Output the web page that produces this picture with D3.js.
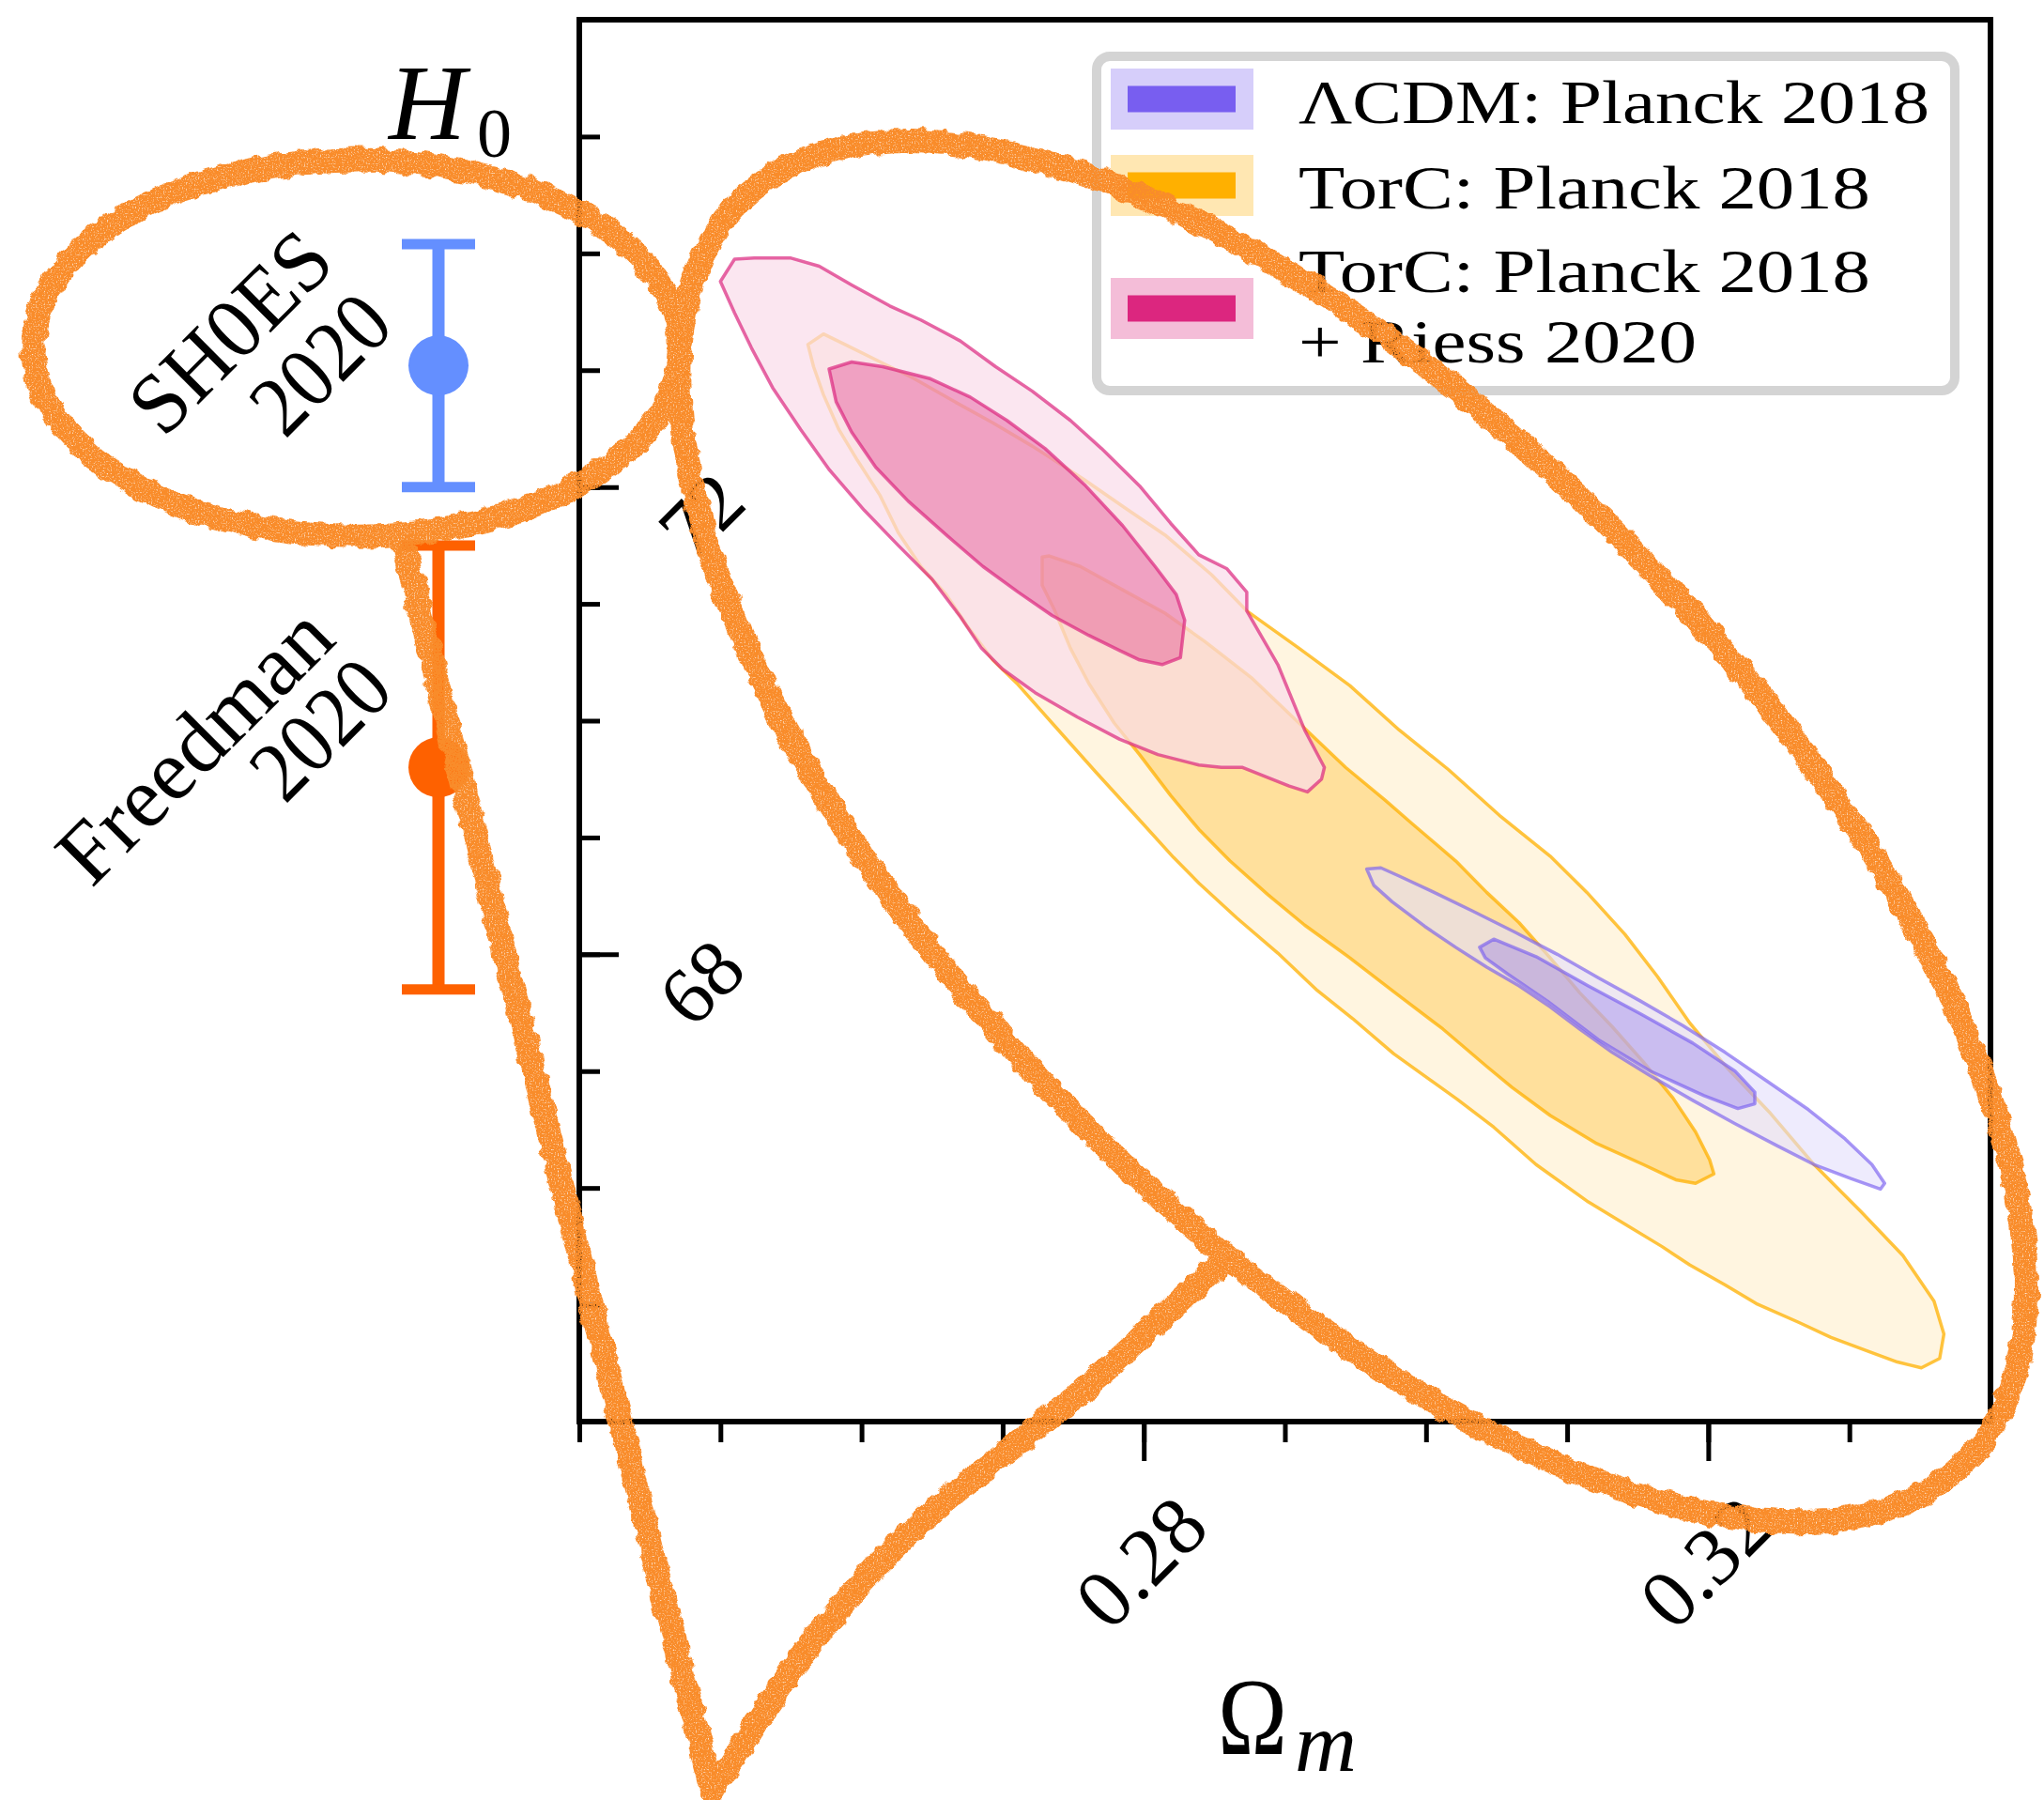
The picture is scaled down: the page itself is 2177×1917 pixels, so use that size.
<!DOCTYPE html>
<html>
<head>
<meta charset="utf-8">
<script src="https://cdn.jsdelivr.net/npm/d3@7/dist/d3.min.js"></script>
<style>
  html, body { margin: 0; padding: 0; background: #ffffff; }
  svg { display: block; }
</style>
</head>
<body>
<svg id="chart" width="2177" height="1917"></svg>
<script>
// ---------------- data ----------------
const xTickValues = [0.24, 0.25, 0.26, 0.27, 0.28, 0.29, 0.30, 0.31, 0.32, 0.33];
const xTickLabelValues = [0.28, 0.32];
const yTickValues = [65, 66, 67, 68, 69, 70, 71, 72, 73, 74, 75];
const yTickLabelValues = [68, 72];

const legendNames = [["ΛCDM: Planck 2018"], ["TorC: Planck 2018"], ["TorC: Planck 2018", "+ Riess 2020"]];
const legendColors = ["#785EF0", "#FFB000", "#DC267F"];

const localNames = [["SH0ES", "2020"], ["Freedman", "2020"]];
const localH0 = [73.04, 69.6];
const localErr = [1.04, 1.9];
const localColors = ["#648FFF", "#FE6100"];

// TorC: Planck 2018 (2 sigma, 1 sigma)  [Omega_m, H0]
const torcOuter = [[0.2562,73.22],[0.2573,73.31],[0.2590,73.21],[0.2615,73.06],[0.2637,72.93],[0.2666,72.73],[0.2693,72.55],[0.2721,72.35],[0.2757,72.07],[0.2788,71.81],[0.2815,71.59],[0.2848,71.25],[0.2873,70.94],[0.2910,70.62],[0.2946,70.30],[0.2981,69.92],[0.3016,69.58],[0.3052,69.19],[0.3088,68.84],[0.3114,68.53],[0.3141,68.17],[0.3164,67.81],[0.3187,67.41],[0.3214,67.02],[0.3244,66.64],[0.3275,66.20],[0.3308,65.80],[0.3338,65.42],[0.3360,65.03],[0.3367,64.75],[0.3364,64.54],[0.3351,64.46],[0.3334,64.51],[0.3316,64.59],[0.3287,64.72],[0.3264,64.85],[0.3234,65.01],[0.3212,65.17],[0.3187,65.34],[0.3167,65.50],[0.3141,65.69],[0.3115,65.88],[0.3078,66.20],[0.3048,66.52],[0.3022,66.76],[0.2977,67.15],[0.2948,67.45],[0.2923,67.69],[0.2895,68.01],[0.2866,68.31],[0.2839,68.61],[0.2821,68.83],[0.2800,69.11],[0.2766,69.56],[0.2735,69.98],[0.2710,70.32],[0.2693,70.52],[0.2675,70.81],[0.2660,71.08],[0.2642,71.32],[0.2626,71.61],[0.2613,71.93],[0.2597,72.23],[0.2584,72.49],[0.2573,72.79],[0.2566,73.03]];
const torcInner = [[0.2728,71.40],[0.2733,71.41],[0.2755,71.32],[0.2788,71.10],[0.2815,70.92],[0.2843,70.68],[0.2877,70.36],[0.2910,69.98],[0.2943,69.60],[0.2971,69.32],[0.2990,69.12],[0.3021,68.80],[0.3043,68.53],[0.3066,68.27],[0.3088,67.97],[0.3109,67.67],[0.3132,67.38],[0.3154,67.08],[0.3175,66.77],[0.3191,66.48],[0.3201,66.24],[0.3204,66.12],[0.3191,66.04],[0.3177,66.07],[0.3154,66.20],[0.3121,66.38],[0.3088,66.62],[0.3061,66.86],[0.3043,67.04],[0.3012,67.36],[0.2976,67.69],[0.2946,67.97],[0.2914,68.25],[0.2888,68.51],[0.2861,68.80],[0.2839,69.07],[0.2819,69.36],[0.2797,69.71],[0.2779,69.98],[0.2761,70.32],[0.2748,70.62],[0.2737,70.94],[0.2728,71.16]];

// TorC: Planck 2018 + Riess 2020
const riessOuter = [[0.2500,73.76],[0.2510,73.95],[0.2524,73.96],[0.2550,73.96],[0.2570,73.89],[0.2593,73.73],[0.2620,73.55],[0.2642,73.43],[0.2670,73.25],[0.2695,73.03],[0.2721,72.82],[0.2748,72.57],[0.2770,72.33],[0.2797,72.01],[0.2819,71.69],[0.2839,71.42],[0.2859,71.30],[0.2873,71.10],[0.2873,70.94],[0.2895,70.48],[0.2914,69.92],[0.2928,69.60],[0.2926,69.50],[0.2916,69.39],[0.2903,69.44],[0.2870,69.60],[0.2855,69.60],[0.2839,69.62],[0.2810,69.71],[0.2783,69.84],[0.2753,70.03],[0.2723,70.24],[0.2700,70.44],[0.2685,70.62],[0.2670,70.89],[0.2650,71.21],[0.2626,71.50],[0.2602,71.80],[0.2577,72.15],[0.2557,72.49],[0.2537,72.85],[0.2522,73.19],[0.2510,73.49]];
const riessInner = [[0.2577,73.01],[0.2593,73.07],[0.2615,73.03],[0.2648,72.93],[0.2677,72.77],[0.2703,72.57],[0.2730,72.33],[0.2758,72.02],[0.2785,71.67],[0.2808,71.32],[0.2823,71.08],[0.2829,70.86],[0.2826,70.54],[0.2813,70.48],[0.2797,70.52],[0.2783,70.60],[0.2761,70.73],[0.2735,70.90],[0.2711,71.10],[0.2686,71.32],[0.2660,71.59],[0.2633,71.88],[0.2610,72.17],[0.2593,72.47],[0.2582,72.73]];

// LambdaCDM: Planck 2018
const lcdmOuter = [[0.2958,68.73],[0.2968,68.74],[0.2981,68.67],[0.3004,68.54],[0.3033,68.37],[0.3063,68.19],[0.3093,68.00],[0.3122,67.80],[0.3152,67.60],[0.3182,67.39],[0.3212,67.16],[0.3241,66.92],[0.3271,66.67],[0.3297,66.42],[0.3316,66.20],[0.3325,66.04],[0.3322,65.99],[0.3301,66.08],[0.3275,66.20],[0.3249,66.36],[0.3219,66.55],[0.3189,66.75],[0.3159,66.96],[0.3132,67.16],[0.3109,67.36],[0.3088,67.55],[0.3066,67.73],[0.3043,67.89],[0.3021,68.06],[0.2999,68.24],[0.2976,68.45],[0.2963,68.59]];
const lcdmInner = [[0.3038,68.06],[0.3048,68.13],[0.3078,67.98],[0.3115,67.73],[0.3152,67.49],[0.3189,67.24],[0.3219,67.00],[0.3233,66.82],[0.3233,66.72],[0.3221,66.68],[0.3197,66.79],[0.3159,67.00],[0.3122,67.27],[0.3086,67.60],[0.3058,67.83],[0.3042,67.97]];

// hand-drawn annotations (data units)
const ringLeftCenter = [0.2242, 73.19];
const ringLeftRadii = [0.02290, 1.608];
const ringBigCenter = [0.2948, 69.05];
const ringBigU = [0.04320, -5.422];
const ringBigV = [-0.02029, -2.358];
const pointerLeft = [[0.2274, 71.57], [0.2494, 60.83]];
const pointerRight = [[0.2494, 60.83], [0.2575, 62.27], [0.2646, 63.18], [0.2755, 64.25], [0.2854, 65.36]];

// ---------------- drawing ----------------
const W = 2177, H = 1917;
const SERIF = "Liberation Serif";
const svg = d3.select("#chart").attr("font-family", SERIF);
const x = d3.scaleLinear().domain([0.24, 0.34]).range([617, 2120]);
const y = d3.scaleLinear().domain([64, 76]).range([1514, 21]);

function txt(sel) {
  return sel.append("text").attr("font-family", SERIF).attr("fill", "#000");
}

const defs = svg.append("defs");
const filt = defs.append("filter").attr("id", "rough")
  .attr("filterUnits", "userSpaceOnUse").attr("x", 0).attr("y", 0).attr("width", W).attr("height", H);
filt.append("feTurbulence").attr("type", "fractalNoise").attr("baseFrequency", "0.08")
  .attr("numOctaves", 2).attr("seed", 7).attr("result", "noise");
filt.append("feDisplacementMap").attr("in", "SourceGraphic").attr("in2", "noise")
  .attr("scale", 10).attr("xChannelSelector", "R").attr("yChannelSelector", "G").attr("result", "disp");
filt.append("feTurbulence").attr("type", "fractalNoise").attr("baseFrequency", "0.7")
  .attr("numOctaves", 1).attr("seed", 3).attr("result", "grain");
filt.append("feColorMatrix").attr("in", "grain").attr("type", "matrix")
  .attr("values", "0 0 0 0 0  0 0 0 0 0  0 0 0 0 0  3 0 0 0 -0.35").attr("result", "grainA");
filt.append("feComposite").attr("in", "disp").attr("in2", "grainA").attr("operator", "in");

const closedLine = d3.line().x(d => x(d[0])).y(d => y(d[1])).curve(d3.curveLinearClosed);

function contour(pts, fill, fillOp, stroke, strokeOp) {
  svg.append("path").attr("d", closedLine(pts))
    .attr("fill", fill).attr("fill-opacity", fillOp)
    .attr("stroke", stroke).attr("stroke-opacity", strokeOp)
    .attr("stroke-width", 3.5).attr("stroke-linejoin", "round");
}
contour(torcOuter, "#FFB000", 0.12, "#FFB000", 0.75);
contour(torcInner, "#FFB000", 0.30, "#FFB000", 0.75);
contour(riessOuter, "#f9dcea", 0.70, "#DC267F", 0.70);
contour(riessInner, "#DC267F", 0.35, "#DC267F", 0.70);
contour(lcdmOuter, "#e2defc", 0.60, "#785EF0", 0.65);
contour(lcdmInner, "#785EF0", 0.30, "#785EF0", 0.65);

// frame
svg.append("rect")
  .attr("x", x(0.24)).attr("y", y(76))
  .attr("width", x(0.34) - x(0.24)).attr("height", y(64) - y(76))
  .attr("fill", "none").attr("stroke", "#000").attr("stroke-width", 6);

// x ticks (outward)
const xMinor = svg.append("g").attr("transform", `translate(0,${y(64)})`)
  .call(d3.axisBottom(x).tickValues(xTickValues).tickSize(22).tickFormat(""));
const xMajor = svg.append("g").attr("transform", `translate(0,${y(64)})`)
  .call(d3.axisBottom(x).tickValues(xTickLabelValues).tickSize(42).tickFormat(""));
// y ticks (inward)
const yMinor = svg.append("g").attr("transform", `translate(${x(0.24)},0)`)
  .call(d3.axisRight(y).tickValues(yTickValues).tickSize(22).tickFormat(""));
const yMajor = svg.append("g").attr("transform", `translate(${x(0.24)},0)`)
  .call(d3.axisRight(y).tickValues(yTickLabelValues).tickSize(42).tickFormat(""));
[xMinor, xMajor, yMinor, yMajor].forEach(g => {
  g.select(".domain").remove();
  g.selectAll(".tick line").attr("stroke", "#000").attr("stroke-width", 5);
});

// tick labels (rotated)
xTickLabelValues.forEach(v => {
  txt(svg)
    .attr("transform", `translate(${x(v) - 3},${y(64) + 150}) rotate(-45)`)
    .attr("text-anchor", "middle").attr("dominant-baseline", "central")
    .attr("font-size", 88).text(d3.format(".2f")(v));
});
yTickLabelValues.forEach(v => {
  txt(svg)
    .attr("transform", `translate(${x(0.24) + 130},${y(v) + 30}) rotate(-45)`)
    .attr("text-anchor", "middle").attr("dominant-baseline", "central")
    .attr("font-size", 86).text(String(v));
});

// axis labels
txt(svg).attr("x", 414).attr("y", 148).attr("font-size", 114)
  .attr("font-style", "italic").text("H");
txt(svg).attr("x", 508).attr("y", 167).attr("font-size", 74).text("0");
txt(svg).attr("x", 1297).attr("y", 1868).attr("font-size", 116)
  .attr("textLength", 74).attr("lengthAdjust", "spacingAndGlyphs").text("Ω");
txt(svg).attr("x", 1379).attr("y", 1886).attr("font-size", 88)
  .attr("font-style", "italic").attr("textLength", 66).attr("lengthAdjust", "spacingAndGlyphs").text("m");

// local H0 measurements (error bars)
const errX = 467;
localH0.forEach((v, i) => {
  const g = svg.append("g");
  const c = localColors[i];
  g.append("line").attr("x1", errX).attr("x2", errX)
    .attr("y1", y(v + localErr[i])).attr("y2", y(v - localErr[i]))
    .attr("stroke", c).attr("stroke-width", 13);
  [v + localErr[i], v - localErr[i]].forEach(e => {
    g.append("line").attr("x1", errX - 39).attr("x2", errX + 39)
      .attr("y1", y(e)).attr("y2", y(e)).attr("stroke", c).attr("stroke-width", 11);
  });
  g.append("circle").attr("cx", errX).attr("cy", y(v)).attr("r", 32).attr("fill", c);
});
const labelOffsets = [[[-222, -36], [-126, -2]], [[-260, -24], [-126, -41]]];
const labelLengths = [[262, 168], [372, 168]];
localNames.forEach((lines, i) => {
  lines.forEach((t, j) => {
    const o = labelOffsets[i][j];
    txt(svg)
      .attr("transform", `translate(${errX + o[0]},${y(localH0[i]) + o[1]}) rotate(-45)`)
      .attr("text-anchor", "middle").attr("dominant-baseline", "central")
      .attr("font-size", 92).attr("textLength", labelLengths[i][j])
      .attr("lengthAdjust", "spacingAndGlyphs").text(t);
  });
});

// legend
const lg = svg.append("g");
lg.append("rect").attr("x", 1168).attr("y", 60).attr("width", 914).attr("height", 356)
  .attr("rx", 14).attr("fill", "#fff").attr("fill-opacity", 0.85)
  .attr("stroke", "#d4d4d4").attr("stroke-width", 10);
const patchTops = [73, 165, 296];
const textBase = [[131], [222], [311, 386]];
const textLens = [[672], [609], [609, 424]];
legendNames.forEach((lines, i) => {
  lg.append("rect").attr("x", 1183).attr("y", patchTops[i]).attr("width", 152).attr("height", 65)
    .attr("fill", legendColors[i]).attr("fill-opacity", 0.3);
  lg.append("rect").attr("x", 1201).attr("y", patchTops[i] + 18.5).attr("width", 115).attr("height", 28)
    .attr("fill", legendColors[i]);
  lines.forEach((t, j) => {
    txt(lg).attr("x", 1383).attr("y", textBase[i][j]).attr("font-size", 66)
      .attr("textLength", textLens[i][j]).attr("lengthAdjust", "spacingAndGlyphs").text(t);
  });
});

// hand-drawn orange annotations
const ann = svg.append("g").attr("filter", "url(#rough)")
  .attr("fill", "none").attr("stroke", "#F98C2A").attr("stroke-width", 26)
  .attr("stroke-linecap", "round").attr("stroke-linejoin", "round");
const ts = d3.range(0, 2 * Math.PI, Math.PI / 90);
const leftPts = ts.map(t => [ringLeftCenter[0] + ringLeftRadii[0] * Math.cos(t), ringLeftCenter[1] + ringLeftRadii[1] * Math.sin(t)]);
const bigPts = ts.map(t => [ringBigCenter[0] + ringBigU[0] * Math.cos(t) + ringBigV[0] * Math.sin(t),
                            ringBigCenter[1] + ringBigU[1] * Math.cos(t) + ringBigV[1] * Math.sin(t)]);
ann.append("path").attr("d", closedLine(leftPts));
ann.append("path").attr("d", closedLine(bigPts));
ann.append("path").attr("d", d3.line().x(d => x(d[0])).y(d => y(d[1]))(pointerLeft));
ann.append("path").attr("d", d3.line().x(d => x(d[0])).y(d => y(d[1])).curve(d3.curveCatmullRom)(pointerRight));
</script>
</body>
</html>
